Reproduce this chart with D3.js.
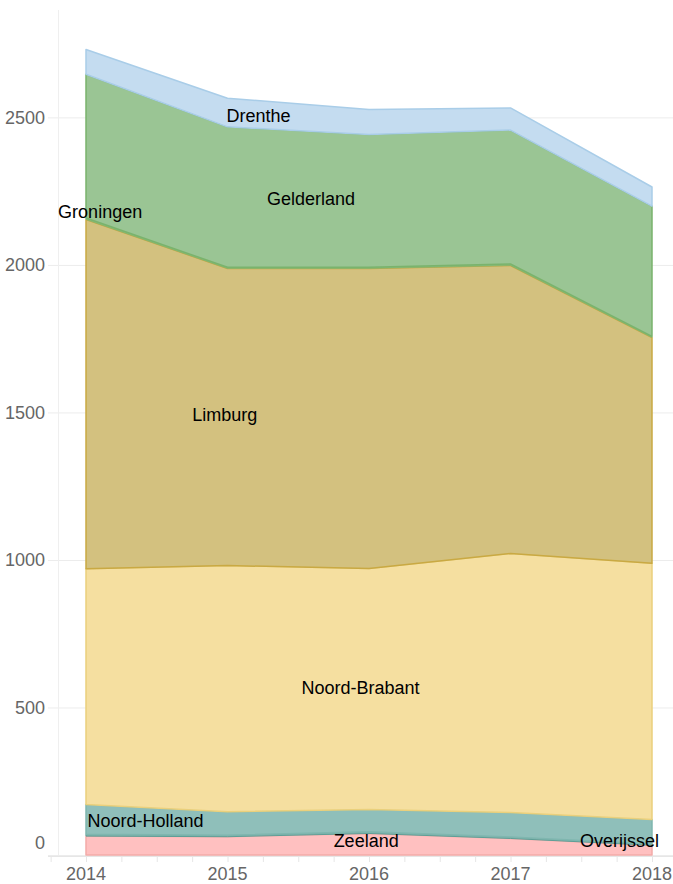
<!DOCTYPE html>
<html lang="en">
  <head>
    <meta charset="UTF-8">
    <title>Stacked area by province</title>
    <style>
      body { margin: 0; background: #fff; }
      text { font-family: "Liberation Sans", Arial, sans-serif; }
    </style>
  </head>
  <body>
    <div id="chart"></div>
    <script src="https://d3js.org/d3.v7.min.js"></script>
    <script>
      // years on the x axis
      const years = [2014, 2015, 2016, 2017, 2018];

      // provinces, bottom of the stack first
      const provinces = ["Zeeland", "Overijssel", "Noord-Holland", "Noord-Brabant",
                         "Limburg", "Groningen", "Gelderland", "Drenthe"];

      // values per province, one per year
      const zeeland      = [64, 62, 73, 56, 33];
      const overijssel   = [6, 5, 6, 5, 4];
      const noordHolland = [101, 80, 75, 83, 83];
      const noordBrabant = [799, 834, 817, 878, 869];
      const limburg      = [1184, 1007, 1017, 976, 765];
      const groningen    = [5, 4, 4, 5, 4];
      const gelderland   = [487, 476, 450, 454, 441];
      const drenthe      = [84, 97, 85, 75, 65];

      const yTicks = [0, 500, 1000, 1500, 2000, 2500];

      // where each name is written (year, value)
      const labelYear  = [2015.98, 2017.77, 2014.42, 2015.94, 2014.98, 2014.10, 2015.59, 2015.22];
      const labelValue = [49, 49, 117, 567, 1493, 2181, 2225, 2507];

      const fills   = ["#ffc0c0", "#7fb5ad", "#8fbfba", "#f5dfa0", "#d3c17f", "#8cbf80", "#9ac594", "#c4dcf0"];
      const strokes = ["#f3aaa8", "#5e9f97", "#7fb6af", "#ead07c", "#c9a943", "#7ab36c", "#7ab36c", "#a9cde8"];
      const strokeW = [1.5, 1, 1.5, 1.5, 1.5, 0.6, 1.5, 1.5];

      const seriesValues = [zeeland, overijssel, noordHolland, noordBrabant,
                            limburg, groningen, gelderland, drenthe];

      // build table for d3.stack
      const table = years.map(function(yr, i) {
        const row = { year: yr };
        provinces.forEach(function(p, j) { row[p] = seriesValues[j][i]; });
        return row;
      });

      const width = 673, height = 884;
      const plotLeft = 58, plotTop = 10, plotBottom = 855;

      const svg = d3.select("#chart").append("svg")
          .attr("width", width)
          .attr("height", height);

      const x = d3.scaleLinear().domain([2014, 2018]).range([86, 652]);
      const y = d3.scaleLinear().domain([0, 2864]).range([plotBottom, plotTop]);

      // grid lines
      svg.append("g").selectAll("line")
        .data(yTicks)
        .join("line")
        .attr("x1", plotLeft - 10).attr("x2", width)
        .attr("y1", d => y(d) + 0.5).attr("y2", d => y(d) + 0.5)
        .attr("stroke", "#ececec");

      svg.append("line")
        .attr("x1", plotLeft + 0.5).attr("x2", plotLeft + 0.5)
        .attr("y1", plotTop).attr("y2", plotBottom)
        .attr("stroke", "#efefef");

      // y labels
      svg.append("g").selectAll("text")
        .data(yTicks)
        .join("text")
        .attr("x", 45)
        .attr("y", d => d === 0 ? y(d) - 12 : y(d))
        .attr("dy", "0.35em")
        .attr("text-anchor", "end")
        .style("font-size", "18px")
        .style("fill", "#666")
        .text(d => d);

      // stacked areas
      const stack = d3.stack().keys(provinces);
      const layers = stack(table);

      const area = d3.area()
        .x(d => x(d.data.year))
        .y0(d => y(d[0]))
        .y1(d => y(d[1]));

      svg.append("g").selectAll("path")
        .data(layers)
        .join("path")
        .attr("d", area)
        .attr("fill", (d, i) => fills[i])
        .attr("stroke", (d, i) => strokes[i])
        .attr("stroke-width", (d, i) => strokeW[i])
        .attr("stroke-linejoin", "round");

      // x axis with quarter ticks
      const xAxis = svg.append("g")
        .attr("transform", "translate(0," + (plotBottom + 1) + ")")
        .call(d3.axisBottom(x)
          .tickValues(d3.range(2013.75, 2018.26, 0.25))
          .tickSize(6)
          .tickFormat(""));
      xAxis.select(".domain").attr("stroke", "#e6e6e6")
        .attr("d", "M" + (plotLeft - 10) + ",0.5H" + width);
      xAxis.selectAll(".tick line").attr("stroke", "#e6e6e6");

      svg.append("g").selectAll("text")
        .data(years)
        .join("text")
        .attr("x", d => x(d))
        .attr("y", 880)
        .attr("text-anchor", "middle")
        .style("font-size", "18px")
        .style("fill", "#666")
        .text(d => d);

      // province names
      svg.append("g").selectAll("text")
        .data(provinces)
        .join("text")
        .attr("x", (d, i) => x(labelYear[i]))
        .attr("y", (d, i) => y(labelValue[i]))
        .attr("dy", "0.35em")
        .attr("text-anchor", "middle")
        .style("font-size", "18px")
        .style("fill", "#000")
        .text(d => d);
    </script>
  </body>
</html>
